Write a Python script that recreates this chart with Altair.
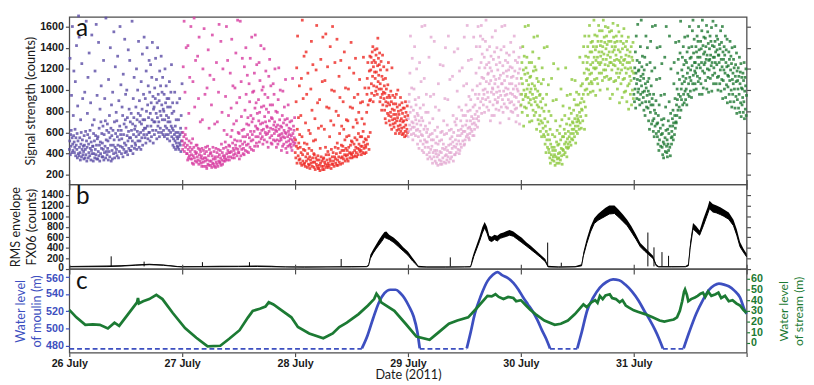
import altair as alt
import pandas as pd

# ---------------- shared time axis (hours since 26 July 00:00) ----------------
DAY_TICKS = [0, 24, 48, 72, 96, 120, 144]
DAY_LABELS = ["26 July", "27 July", "28 July", "29 July", "30 July", "31 July", ""]
DAY_COLORS = ["#5a4ba5", "#d73ca0", "#ee2823", "#e4aad2", "#8cc83c", "#1e7832"]

# ---------------- panel a: signal strength (counts / 10), 16 readings per hour ----------------
SIG_26 = ["44 52 130 39 58 47 62 95 41 55 160 49 43 76 57 118",
          "51 41 46 63 108 38 55 48 142 44 59 36 85 52 40 170",
          "38 150 46 55 41 34 72 49 60 37 125 44 53 92 39 47",
          "42 35 57 48 98 36 44 61 39 165 52 33 46 78 58 112",
          "36 49 41 135 55 38 62 45 88 34 51 43 152 40 67 47",
          "47 33 59 40 72 52 36 118 44 57 39 162 48 35 95 54",
          "35 56 42 145 38 64 48 33 82 51 40 70 104 45 59 37",
          "50 37 66 44 128 34 58 41 92 47 71 36 168 53 42 62",
          "39 68 45 52 34 110 60 42 76 37 55 140 48 64 33 86",
          "57 43 35 98 62 48 40 155 53 70 36 46 122 59 41 79",
          "44 71 38 56 132 48 62 36 90 53 42 66 160 47 58 105",
          "62 40 54 84 46 76 37 115 58 44 68 50 148 41 72 96",
          "48 65 42 100 57 74 39 52 138 61 45 82 55 128 43 70",
          "55 43 78 62 47 165 52 68 40 92 58 74 112 45 63 50",
          "66 48 84 56 120 44 72 61 100 52 78 146 58 46 90 70",
          "52 76 60 44 108 68 55 82 134 48 72 62 96 58 150 64",
          "72 55 92 64 50 118 80 58 140 66 86 54 104 74 60 128",
          "60 98 52 78 124 66 88 56 112 72 145 62 94 50 82 70",
          "84 58 102 70 92 130 62 78 110 54 88 74 140 66 96 60",
          "70 90 56 118 80 64 104 76 132 60 86 98 72 112 58 82",
          "62 80 96 56 72 120 66 88 58 104 76 64 92 54 84 70",
          "58 74 92 62 108 52 70 84 60 98 66 124 56 78 64 88",
          "48 62 54 80 46 58 98 52 66 44 60 72 50 56 88 47",
          "54 46 60 72 44 56 50 92 58 48 64 42 76 52 60 106"]
SIG_27 = ["52 44 60 122 48 56 165 42 50 98 58 46 64 140 54 40",
          "40 48 34 142 44 36 78 52 38 112 46 42 35 160 50 39",
          "35 44 31 54 108 38 30 46 168 36 84 42 33 128 40 48",
          "41 32 48 37 132 34 45 92 30 150 39 44 33 70 42 36",
          "31 38 28 45 72 35 120 32 43 28 158 36 40 96 33 46",
          "36 28 42 26 102 34 47 30 138 38 29 64 44 33 114 40",
          "29 41 33 86 27 38 152 31 46 35 30 110 42 28 68 37",
          "35 27 45 32 126 30 41 70 37 28 44 98 33 162 39 31",
          "32 43 36 146 29 49 34 79 41 30 120 38 45 33 62 36",
          "38 33 51 94 35 46 160 40 58 34 128 43 37 76 48 41",
          "34 47 41 116 37 56 83 42 148 62 36 50 104 45 39 68",
          "43 36 53 102 40 48 135 45 71 88 38 52 166 44 60 41",
          "41 59 35 93 47 165 52 38 108 75 44 62 130 49 56 40",
          "45 63 39 122 51 81 43 56 140 96 48 68 42 114 58 74",
          "49 41 67 106 55 89 46 130 61 76 52 44 150 70 58 98",
          "53 73 43 99 61 116 47 83 152 66 56 88 50 124 64 78",
          "47 63 56 91 71 126 51 79 109 59 68 142 54 84 62 100",
          "56 69 49 103 63 85 139 53 75 96 60 70 118 58 82 66",
          "51 65 59 93 46 79 113 61 71 129 55 86 64 104 50 74",
          "57 49 73 86 63 106 53 67 96 59 70 120 52 62 80 65",
          "46 61 53 79 67 49 91 57 121 63 52 72 58 100 66 55",
          "53 43 65 59 76 47 99 56 69 49 62 84 55 72 60 110",
          "45 59 51 67 41 73 56 47 86 61 52 64 58 48 70 54",
          "49 63 46 57 71 43 53 111 59 51 66 48 62 55 74 50"]
SIG_28 = ["41 53 36 89 47 121 31 63 151 45 38 74 50 34 104 58",
          "35 46 31 76 41 111 29 56 166 39 33 92 44 30 132 50",
          "31 43 28 69 37 136 33 96 49 27 40 116 35 30 62 45",
          "29 37 26 59 34 101 31 146 43 81 28 36 124 32 52 40",
          "27 39 32 73 25 53 36 119 30 161 34 28 88 38 26 64",
          "26 34 29 91 24 45 31 129 37 66 28 33 108 25 150 35",
          "28 36 25 63 32 109 30 46 153 39 27 84 34 29 122 42",
          "31 27 39 83 29 56 35 141 33 71 26 44 100 30 37 160",
          "30 41 33 67 28 99 37 126 46 35 31 80 40 29 148 50",
          "34 29 45 76 37 113 32 59 93 41 30 128 36 48 66 43",
          "37 31 47 89 35 63 43 136 39 53 33 102 45 38 72 56",
          "35 43 39 71 33 101 46 57 121 41 36 84 48 40 145 52",
          "39 36 51 83 41 65 37 116 49 93 43 55 38 130 46 72",
          "41 37 53 69 45 96 39 59 79 49 44 110 42 56 88 47",
          "43 39 56 73 47 89 41 61 131 51 45 68 40 102 54 48",
          "46 41 53 79 96 111 49 126 86 56 102 44 118 90 132 60",
          "91 119 131 106 97 126 136 113 141 89 122 104 128 95 117 138",
          "111 126 99 133 117 103 139 96 123 149 108 130 114 101 124 135",
          "89 106 119 93 127 101 81 113 96 133 86 110 98 122 92 104",
          "81 97 73 111 89 69 101 85 119 93 78 105 88 126 76 95",
          "71 86 93 67 79 99 75 89 63 121 82 72 95 68 87 77",
          "65 81 73 93 69 59 87 77 96 71 62 84 74 100 66 80",
          "63 77 59 86 71 67 93 61 81 73 64 88 58 78 70 83",
          "59 71 65 83 56 75 61 89 67 79 57 72 63 85 60 76"]
SIG_29 = ["56 73 61 89 96 67 116 79 151 63 84 58 102 70 130 65",
          "53 69 81 59 101 65 141 75 91 57 72 86 62 120 68 78",
          "49 63 76 56 93 45 71 126 61 83 52 67 108 58 74 160",
          "43 57 71 49 86 41 63 111 53 161 46 66 79 51 96 60",
          "39 51 63 35 79 46 56 131 41 69 37 58 94 44 150 53",
          "35 47 59 31 73 41 53 96 37 146 43 62 33 84 50 40",
          "31 43 56 37 65 29 49 106 39 81 34 52 42 124 30 60",
          "33 41 53 30 61 45 36 123 49 71 32 58 44 92 38 140",
          "31 46 39 59 34 67 43 91 37 151 48 32 62 41 110 54",
          "35 49 41 63 37 56 45 113 51 76 33 60 47 136 39 70",
          "39 53 46 67 41 73 49 99 57 139 44 62 52 84 40 118",
          "43 57 49 71 63 46 81 59 121 66 52 76 61 104 48 150",
          "49 61 53 76 67 86 56 106 71 161 58 80 64 128 55 94",
          "53 65 59 81 71 91 63 129 75 61 68 100 57 84 73 150",
          "57 69 63 86 77 96 67 116 141 73 80 104 65 92 160 75",
          "71 96 121 83 141 106 151 89 126 161 78 112 134 92 148 100",
          "86 111 96 131 79 121 101 146 91 166 108 124 84 138 98 115",
          "93 116 81 126 106 141 89 121 71 109 132 98 118 76 150 102",
          "101 86 129 96 113 76 136 106 91 156 110 82 124 98 140 88",
          "89 119 103 93 131 81 111 99 126 69 114 95 138 84 106 160",
          "106 91 123 79 116 99 141 87 109 161 95 128 102 84 118 135",
          "96 113 83 126 101 91 119 73 133 106 88 122 97 145 80 112",
          "89 106 121 96 79 113 101 136 86 151 94 118 82 128 104 70",
          "93 83 111 101 126 76 99 116 89 131 106 68 120 96 140 85"]
SIG_30 = ["86 111 96 126 79 106 141 91 119 66 100 132 84 115 160 94",
          "96 121 83 109 131 101 76 116 93 161 105 88 126 70 112 98",
          "91 113 101 86 126 71 106 96 136 81 118 92 150 76 104 122",
          "89 101 79 119 93 63 111 86 151 99 72 108 84 130 68 95",
          "76 96 61 89 71 106 56 83 121 69 92 64 110 58 80 140",
          "56 73 49 66 86 41 61 96 53 141 46 70 58 105 44 80",
          "41 53 36 63 31 49 76 39 111 46 34 58 43 90 37 125",
          "33 46 39 56 29 43 71 37 91 51 31 62 35 48 120 40",
          "36 49 31 59 41 66 34 53 101 45 38 72 30 56 44 85",
          "43 56 39 63 49 76 41 59 121 51 46 68 37 95 54 45",
          "49 61 46 73 56 83 51 67 96 59 48 78 54 110 63 70",
          "53 69 59 81 63 91 56 73 109 66 50 86 61 98 70 76",
          "59 73 66 86 71 96 63 79 131 69 88 75 104 64 82 92",
          "81 106 71 126 96 141 89 116 63 151 100 84 132 76 110 120",
          "101 126 111 141 96 131 119 151 106 161 115 136 98 124 145 108",
          "116 136 106 146 126 99 141 121 166 131 110 152 120 138 95 128",
          "121 141 111 151 131 106 146 126 161 136 116 156 124 100 142 132",
          "126 146 116 136 156 109 141 129 166 119 134 150 112 145 124 160",
          "119 139 129 151 113 143 101 133 159 123 146 110 136 155 126 92",
          "131 111 146 126 156 119 141 96 136 163 124 150 108 138 128 145",
          "123 141 109 133 151 116 129 146 101 161 120 138 112 155 128 88",
          "116 136 126 146 106 131 119 151 93 139 124 110 144 128 158 98",
          "111 129 121 141 99 133 116 146 89 126 138 104 120 150 82 132",
          "106 126 113 136 96 121 109 141 86 131 118 100 128 145 92 116"]
SIG_31 = ["96 111 89 121 101 136 83 116 151 106 92 128 110 162 98 118",
          "101 119 91 126 86 109 141 96 113 166 104 122 88 132 98 115",
          "93 111 81 119 99 131 76 106 89 151 102 84 124 95 140 108",
          "83 99 71 111 89 63 96 126 79 146 86 104 68 118 92 160",
          "71 86 61 96 73 56 81 121 66 161 78 90 59 110 68 140",
          "56 69 49 76 61 43 86 53 111 141 64 47 95 58 72 125",
          "46 59 39 67 51 36 73 49 96 131 55 42 84 62 160 47",
          "41 53 37 63 49 71 43 59 89 151 46 66 38 78 120 55",
          "49 61 56 73 66 81 53 69 106 126 58 76 92 64 145 70",
          "69 86 76 101 91 116 81 129 96 146 84 110 74 135 94 165",
          "81 101 91 119 106 131 86 113 141 96 124 88 108 150 99 128",
          "91 111 101 126 86 136 116 151 96 121 106 140 94 160 112 130",
          "99 119 109 131 93 141 123 156 106 166 114 135 100 148 126 118",
          "106 126 116 141 101 136 121 151 113 131 146 108 160 124 138 96",
          "111 131 121 146 106 139 126 156 96 166 118 142 102 134 150 124",
          "116 136 126 149 109 141 129 161 101 133 120 155 112 144 98 128",
          "119 139 129 151 111 133 146 123 159 99 126 142 114 165 131 106",
          "121 141 131 116 146 126 136 161 106 151 124 138 112 148 100 133",
          "113 133 126 143 106 139 119 156 99 129 145 110 122 160 92 136",
          "109 129 119 141 101 133 116 151 93 126 138 105 122 148 88 114",
          "103 123 113 136 96 129 109 146 89 119 132 100 125 84 140 110",
          "96 116 106 129 89 121 101 141 83 113 124 94 108 135 78 118",
          "91 109 101 121 83 113 96 131 79 106 117 88 125 75 102 112",
          "86 101 93 116 79 109 89 126 73 99 112 82 104 120 76 95"]
SIGNAL_DAYS = [SIG_26, SIG_27, SIG_28, SIG_29, SIG_30, SIG_31]
SIG_TICKS = [200, 400, 600, 800, 1000, 1200, 1400, 1600]

# ---------------- panel b: RMS envelope FX06 (band low / high) and spikes ----------------
RMS_T = [0, 4, 8, 11, 14, 17, 20, 23, 24, 28, 32, 36, 40, 43, 46, 50, 55, 60, 63.2,
         63.6, 64.0, 64.6, 65.2, 65.8, 66.4, 67.0, 67.4, 68.0, 69.0, 70.0, 71.0, 72.0, 73.0, 73.6, 74.2,
         76, 80, 84, 85.3,
         85.6, 86.0, 86.6, 87.2, 87.8, 88.3, 88.8, 89.3, 89.8, 90.4, 91.0, 91.6, 92.3, 93.0, 93.6, 94.4,
         95.3, 96.2, 97.1, 98.1, 99.1, 100.2, 101.2, 101.8,
         104, 107.5,
         108.9, 109.3, 110.0, 110.8, 111.6, 112.4, 113.2, 114.0, 114.8, 115.9, 116.8, 117.7, 118.6,
         119.5, 120.5, 121.4, 122.3, 123.2, 124.1, 124.8, 125.3,
         128, 131,
         131.6, 132.0, 132.6, 133.3, 134.0, 134.8, 135.7, 136.1, 136.8, 137.6, 138.4, 139.1, 140.2,
         141.2, 141.9, 142.6, 143.3, 144]
RMS_LO = [42, 44, 46, 55, 70, 82, 70, 45, 40, 42, 44, 46, 48, 44, 38, 36, 38, 40, 44,
          60, 200, 300, 380, 450, 520, 600, 580, 560, 500, 420, 340, 260, 150, 100, 40,
          36, 36, 38, 40,
          120, 240, 380, 520, 680, 780, 680, 540, 520, 560, 530, 580, 600, 620, 640, 620,
          560, 500, 440, 370, 300, 220, 140, 40,
          36, 40,
          60, 250, 480, 700, 860, 920, 960, 1000, 1040, 1050, 980, 900, 820,
          700, 560, 420, 340, 270, 200, 60, 40,
          40, 42,
          60, 400, 760, 700, 640, 820, 1040, 1140, 1080, 1060, 1030, 1000, 940,
          820, 640, 420, 320, 230]
RMS_HI = [58, 60, 66, 72, 88, 100, 85, 58, 52, 58, 62, 64, 66, 60, 50, 48, 50, 52, 56,
          80, 270, 370, 460, 550, 630, 700, 710, 650, 590, 510, 410, 330, 210, 140, 60,
          48, 48, 50, 55,
          190, 310, 460, 610, 790, 890, 800, 630, 610, 650, 630, 670, 690, 720, 740, 710,
          650, 590, 510, 440, 360, 270, 190, 60,
          48, 52,
          90, 320, 570, 800, 960, 1040, 1100, 1160, 1200, 1200, 1120, 1030, 930,
          810, 650, 490, 410, 330, 250, 90, 55,
          52, 56,
          90, 510, 870, 810, 730, 950, 1170, 1290, 1230, 1200, 1170, 1130, 1070,
          930, 750, 510, 390, 290]
SPIKE_T = [8.9, 15.9, 28.3, 38.3, 57.8, 81.0, 101.7, 104.6, 123.0, 124.3, 126.0, 127.4]
SPIKE_V = [240, 140, 130, 130, 190, 220, 500, 120, 690, 410, 320, 250]
RMS_TICKS = [0, 200, 400, 600, 800, 1000, 1200, 1400]

# ---------------- panel c: water level of stream (green) and moulin (blue) ----------------
STREAM_T = [0, 1.5, 3.4, 5, 6.5, 8.2, 9.6, 10.6, 12.5, 14.4, 14.6, 14.8, 15.7, 17, 18.5, 19.8, 22,
            24.6, 27, 29.4, 32.1, 34, 36.2, 38, 39, 40.5, 41.7, 42.4, 43.4, 45, 47.2, 48.6, 51, 54,
            56, 57.4, 59, 61.5, 63.5, 64.8, 65.3, 65.8, 66.3, 69.1, 71.5, 73.8, 76.6, 78.5, 80.7,
            82.5, 84.8, 86.5, 88.9, 89.8, 90.6, 91.3, 92.3, 93.3, 94.4, 95, 96, 97.1, 98, 99.1, 101,
            103.2, 104.5, 106, 107.5, 108.7, 109.3, 110, 111, 111.8, 112.3, 112.8, 113.4, 114, 114.9,
            115.4, 116.2, 117, 117.6, 118.3, 119, 120, 121, 122.4, 124, 125.5, 126.5, 127.5, 128.5,
            129.2, 129.8, 130.3, 130.7, 130.9, 131.3, 131.6, 132.2, 133, 133.6, 134.2, 134.7, 135.2,
            135.8, 136.5, 137.4, 138, 138.6, 139.4, 140.2, 141, 141.8, 142.6, 143.3, 144]
STREAM_V = [31, 24, 17, 17.5, 17, 13.6, 19, 16, 27, 38, 42, 37, 39, 41, 45, 41, 28,
            14, 5, -3, -2.5, 4, 12, 24, 30, 32, 34, 38, 36, 31, 24, 15, 9, 4.5,
            9, 15, 19, 27, 35, 41, 46, 43, 38, 30, 18, 6, 3, 10, 18,
            21, 24, 32, 44, 43.5, 45.5, 43, 41, 43, 42, 39, 40, 35, 31, 27, 21,
            17, 18, 21, 27, 33, 36, 33.5, 38, 40, 37.5, 44, 41, 44.5, 45.5,
            42, 41, 38, 40, 35, 33, 30.5, 29, 27, 24, 21, 20, 21, 22,
            24, 30, 39, 48, 50, 45, 39, 41, 42.5, 44, 46, 47, 43,
            48, 44, 45.5, 47, 42, 44, 39, 40, 37, 35, 31, 28]

MOULIN_1_T = [62.2, 63.4, 64.6, 65.8, 67.0, 68.2, 69.4, 70.4, 71.3, 72.3, 73.2, 74.0, 74.5]
MOULIN_1_V = [477, 492, 512, 530, 541, 545, 545, 541, 535, 525, 514, 496, 477]
MOULIN_2_T = [84.5, 85.3, 86.2, 87.5, 88.9, 90.0, 91.0, 92.0, 93.1, 94.4, 95.5, 96.5, 97.5,
              98.5, 99.5, 100.5, 101.4, 102.2]
MOULIN_2_V = [477, 495, 517, 538, 555, 562, 565.5, 562, 559, 553, 545, 536, 528, 520, 510, 498, 488, 477]
MOULIN_3_T = [108.0, 108.9, 110.1, 111.4, 112.8, 114.2, 115.6, 116.9, 118.2, 119.6, 121.0, 122.2,
              123.4, 124.5, 125.4, 126.2]
MOULIN_3_V = [477, 495, 521, 536, 547.5, 554, 557, 556, 551, 543, 532.5, 521, 510, 498.7, 488, 477]
MOULIN_4_T = [130.6, 131.8, 133.3, 134.7, 136.1, 137.1, 138.1, 139.2, 140.2, 141.4, 142.6, 143.6, 144]
MOULIN_4_V = [477, 496, 517.5, 533, 545.5, 550, 552, 551, 549, 544, 536, 521, 517]
DRY_START = [0, 74.5, 102.2, 126.2]
DRY_END = [62.2, 84.5, 108.0, 130.6]
DRY_LEVEL = 476.5
MOULIN_TICKS = [480, 500, 520, 540, 560]
STREAM_TICKS = [0, 10, 20, 30, 40, 50, 60]

BLUE = "#3d4fc0"
GREEN = "#1c7a33"
FRAME = "#4d4d4d"
W = 696

# ---------------- tables ----------------
rows = []
for d, day in enumerate(SIGNAL_DAYS):
    for h, s in enumerate(day):
        vals = s.split()
        n = len(vals)
        for k, v in enumerate(vals):
            rows.append({"t": d * 24 + h + (k + 0.5) / n, "v": int(v) * 10, "day": DAY_LABELS[d]})
sig = pd.DataFrame(rows)

rms = pd.DataFrame({"t": RMS_T, "lo": RMS_LO, "hi": RMS_HI})
spk = pd.DataFrame({"t": SPIKE_T, "v": SPIKE_V, "base": [50] * len(SPIKE_T)})
stream = pd.DataFrame({"t": STREAM_T, "v": STREAM_V})
m_rows = []
for i, (ts, vs) in enumerate([(MOULIN_1_T, MOULIN_1_V), (MOULIN_2_T, MOULIN_2_V),
                              (MOULIN_3_T, MOULIN_3_V), (MOULIN_4_T, MOULIN_4_V)]):
    for t, v in zip(ts, vs):
        m_rows.append({"t": t, "v": v, "seg": i})
moulin = pd.DataFrame(m_rows)
d_rows = []
for i, (a, b) in enumerate(zip(DRY_START, DRY_END)):
    d_rows.append({"t": a, "v": DRY_LEVEL, "seg": i})
    d_rows.append({"t": b, "v": DRY_LEVEL, "seg": i})
dry = pd.DataFrame(d_rows)
days_df = pd.DataFrame({"t": DAY_TICKS})

xscale = alt.Scale(domain=[0, 144], nice=False, zero=False)


def x_ticks(orient="bottom"):
    return alt.Axis(values=DAY_TICKS, labels=False, title=None, tickSize=5, orient=orient)


def top_tick_layer():
    return alt.Chart(days_df).mark_point(opacity=0).encode(
        x=alt.X("t:Q", scale=xscale, axis=x_ticks("top")))


def letter(s):
    return alt.Chart(pd.DataFrame({"s": [s]})).mark_text(
        font="Lato", fontSize=25, align="left", baseline="middle", color="#111"
    ).encode(x=alt.value(7), y=alt.value(12), text="s:N")


# ---------------- panel a ----------------
ascale = alt.Scale(domain=[110, 1690], nice=False, zero=False)
a_pts = alt.Chart(sig).mark_square(size=8, opacity=0.8).encode(
    x=alt.X("t:Q", scale=xscale, axis=x_ticks()),
    y=alt.Y("v:Q", scale=ascale, axis=alt.Axis(values=SIG_TICKS, format="d",
                                             title="Signal strength (counts)", tickSize=4)),
    color=alt.Color("day:N", scale=alt.Scale(domain=DAY_LABELS[:6], range=DAY_COLORS), legend=None),
)
a_right = alt.Chart(pd.DataFrame({"v": SIG_TICKS})).mark_point(opacity=0).encode(
    y=alt.Y("v:Q", scale=ascale, axis=alt.Axis(orient="right", values=SIG_TICKS, labels=False, title=None, tickSize=4)))
panel_a = alt.layer(a_pts, a_right, letter("a")).resolve_axis(y="independent").properties(width=W, height=172)

# ---------------- panel b ----------------
bscale = alt.Scale(domain=[0, 1600], nice=False, zero=False)
b_area = alt.Chart(rms).mark_area(color="black", opacity=1, interpolate="linear").encode(
    x=alt.X("t:Q", scale=xscale, axis=x_ticks()),
    y=alt.Y("lo:Q", scale=bscale, axis=alt.Axis(
        values=RMS_TICKS, format="d", title=["RMS envelope", "FX06 (counts)"], tickSize=4,
        labelFontSize=10.5,
        labelOffset={"condition": {"test": "datum.value == 0", "value": -1}, "value": 0})),
    y2="hi:Q",
)
b_line = alt.Chart(rms).mark_line(color="black", strokeWidth=1).encode(
    x=alt.X("t:Q", scale=xscale, axis=None), y=alt.Y("lo:Q", scale=bscale, axis=None))
b_spk = alt.Chart(spk).mark_rule(color="black", strokeWidth=1).encode(
    x=alt.X("t:Q", scale=xscale, axis=None), y=alt.Y("base:Q", scale=bscale, axis=None), y2="v:Q")
b_right = alt.Chart(pd.DataFrame({"v": RMS_TICKS})).mark_point(opacity=0).encode(
    y=alt.Y("v:Q", scale=bscale, axis=alt.Axis(orient="right", values=RMS_TICKS, labels=False, title=None, tickSize=4)))
panel_b = alt.layer(b_area, b_line, b_spk, b_right, top_tick_layer(), letter("b")).resolve_axis(
    y="independent", x="independent").properties(width=W, height=87)

# ---------------- panel c ----------------
mscale = alt.Scale(domain=[472, 569], nice=False, zero=False)
sscale = alt.Scale(domain=[-9, 69], nice=False, zero=False)
xlab = "[" + ",".join("'" + s + "'" for s in DAY_LABELS) + "][round(datum.value / 24)]"
c_blue = alt.Chart(moulin).mark_line(color=BLUE, strokeWidth=2.8, interpolate="monotone").encode(
    x=alt.X("t:Q", scale=xscale, axis=alt.Axis(values=DAY_TICKS, labelExpr=xlab, title="Date (2011)",
                                             tickSize=4, labelPadding=1, titlePadding=1)),
    y=alt.Y("v:Q", scale=mscale, axis=alt.Axis(
        values=MOULIN_TICKS, format="d", title=["Water level", "of moulin (m)"],
        labelColor=BLUE, titleColor=BLUE, tickColor=BLUE, tickSize=4,
        labelOffset={"condition": {"test": "datum.value == 560", "value": 2}, "value": 0})),
    detail="seg:N",
)
c_dry = alt.Chart(dry).mark_line(color=BLUE, strokeWidth=1.6, strokeDash=[5, 3]).encode(
    x=alt.X("t:Q", scale=xscale, axis=None), y=alt.Y("v:Q", scale=mscale, axis=None), detail="seg:N")
c_green = alt.Chart(stream).mark_line(color=GREEN, strokeWidth=2.8).encode(
    x=alt.X("t:Q", scale=xscale, axis=None),
    y=alt.Y("v:Q", scale=sscale, axis=alt.Axis(orient="right", values=STREAM_TICKS, format="d",
                                             title=["Water level", "of stream (m)"], labelColor=GREEN,
                                             titleColor=GREEN, tickColor=GREEN, tickSize=3, labelPadding=1,
                                             titlePadding=1, titleAngle=270, titleBaseline="top",
                                             titleLineHeight=15, titleFontSize=12.5)),
)
panel_c = alt.layer(c_blue, c_dry, c_green, top_tick_layer(), letter("c")).resolve_scale(
    y="independent").resolve_axis(x="independent").properties(width=W, height=86)

chart = alt.vconcat(panel_a, panel_b, panel_c, spacing=0, bounds="flush").properties(
    padding={"left": 0, "right": 0, "top": 0, "bottom": 0}
).configure_view(stroke=FRAME, strokeWidth=1.3).configure_axis(
    labelFont="Liberation Sans", labelFontWeight="bold", labelFontSize=11, labelColor="#1a1a1a",
    titleFont="Lato", titleFontSize=13, titleFontWeight="normal", titleColor="#1a1a1a",
    tickColor=FRAME, tickWidth=1.2, domain=False, grid=False, labelPadding=2, titlePadding=2,
    titleLineHeight=17, labelFlush=False, labelOverlap=False,
)

chart.save("out.html", embed_options={"renderer": "svg", "actions": False})
